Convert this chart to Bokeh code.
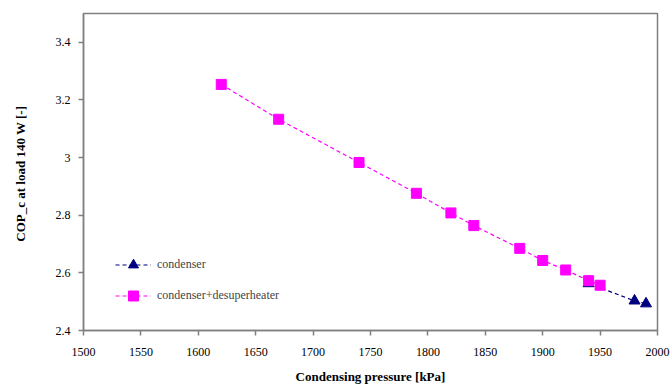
from bokeh.plotting import figure
from bokeh.models import Range1d, FixedTicker, Legend, LegendItem
from bokeh.embed import file_html
from bokeh.resources import INLINE

# data
cond_x = [1940, 1980, 1990]
cond_y = [2.563, 2.503, 2.493]
desup_x = [1620, 1670, 1740, 1790, 1820, 1840, 1880, 1900, 1920, 1940, 1950]
desup_y = [3.254, 3.133, 2.983, 2.876, 2.808, 2.764, 2.685, 2.643, 2.610, 2.573, 2.557]
x_ticks = [1500, 1550, 1600, 1650, 1700, 1750, 1800, 1850, 1900, 1950, 2000]
y_ticks = [2.4, 2.6, 2.8, 3.0, 3.2, 3.4]
y_tick_labels = ["2.4", "2.6", "2.8", "3", "3.2", "3.4"]
x_label = "Condensing pressure [kPa]"
y_label = "COP_c at load 140 W  [-]"
series_names = ["condenser", "condenser+desuperheater"]

FONT = "'Liberation Serif', 'DejaVu Serif', serif"
GRAY = "#808080"

p = figure(width=670, height=392, output_backend="svg", toolbar_location=None,
           x_range=Range1d(1500, 2000), y_range=Range1d(2.4, 3.5),
           min_border_left=83, min_border_right=13, min_border_top=13, min_border_bottom=62)
p.frame_width = 574
p.frame_height = 317

p.grid.visible = False
p.outline_line_color = GRAY
p.outline_line_width = 1.5
p.background_fill_color = "white"
p.border_fill_color = "white"

p.xaxis.ticker = FixedTicker(ticks=x_ticks)
p.yaxis.ticker = FixedTicker(ticks=y_ticks)
p.yaxis.major_label_overrides = {t: l for t, l in zip(y_ticks, y_tick_labels)}
for ax in (p.xaxis[0], p.yaxis[0]):
    ax.axis_line_color = GRAY
    ax.axis_line_width = 1.5
    ax.major_tick_line_color = GRAY
    ax.major_tick_line_width = 1.5
    ax.major_tick_in = 0
    ax.major_tick_out = 5
    ax.minor_tick_line_color = None
    ax.major_label_text_font = FONT
    ax.major_label_text_font_size = "12px"
    ax.major_label_text_color = "black"
    ax.axis_label_text_font = FONT
    ax.axis_label_text_font_style = "bold"
    ax.axis_label_text_font_size = "13px"
    ax.axis_label_text_color = "black"
p.xaxis.axis_label = x_label
p.yaxis.axis_label = y_label
p.xaxis.major_label_standoff = 12
p.xaxis.axis_label_standoff = 10
p.yaxis.major_label_standoff = 8
p.yaxis.axis_label_standoff = 25

l1 = p.line(cond_x, cond_y, line_color="#000080", line_dash="4 3", line_width=1.2)
s1 = p.scatter(cond_x, cond_y, marker="triangle", size=11, fill_color="#000080", line_color="#000080")
l2 = p.line(desup_x, desup_y, line_color="#FF00FF", line_dash="4 3", line_width=1.2)
s2 = p.scatter(desup_x, desup_y, marker="square", size=10, fill_color="#FF00FF", line_color="#FF00FF")

legend = Legend(items=[LegendItem(label=series_names[0], renderers=[l1, s1]),
                       LegendItem(label=series_names[1], renderers=[l2, s2])],
                location=(32, 22), border_line_color=None, background_fill_alpha=0,
                label_text_font=FONT, label_text_font_size="12px",
                glyph_width=36, glyph_height=25, spacing=6, label_standoff=6, padding=4, margin=0)
p.add_layout(legend, "center")

open("out.html", "w").write(file_html(p, INLINE))
